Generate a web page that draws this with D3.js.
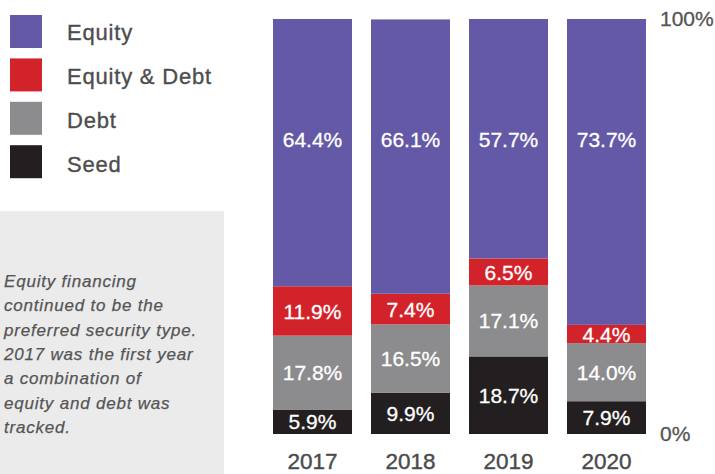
<!DOCTYPE html>
<html>
<head>
<meta charset="utf-8">
<script src="https://cdn.jsdelivr.net/npm/d3@7"></script>
<style>
  html, body { margin: 0; padding: 0; background: #fff; }
  svg { display: block; font-family: "Liberation Sans", Arial, Helvetica, sans-serif; }
</style>
</head>
<body>
<svg id="chart" width="715" height="474"></svg>
<script>
// Security type share of financings by year (percent)
const years = ["2017", "2018", "2019", "2020"];
const seriesNames = ["Seed", "Debt", "Equity & Debt", "Equity"];
const seed        = [5.9, 9.9, 18.7, 7.9];
const debt        = [17.8, 16.5, 17.1, 14.0];
const equityDebt  = [11.9, 7.4, 6.5, 4.4];
const equity      = [64.4, 66.1, 57.7, 73.7];
const axisTicks   = [0, 100];
const legendOrder = ["Equity", "Equity & Debt", "Debt", "Seed"];
const note = [
  "Equity financing",
  "continued to be the",
  "preferred security type.",
  "2017 was the first year",
  "a combination of",
  "equity and debt was",
  "tracked."
];

const colors = {
  "Equity": "#6459a6",
  "Equity & Debt": "#d2232a",
  "Debt": "#8c8c8e",
  "Seed": "#231f20"
};

const rows = years.map((y, i) => ({
  year: y,
  "Seed": seed[i],
  "Debt": debt[i],
  "Equity & Debt": equityDebt[i],
  "Equity": equity[i]
}));

const svg = d3.select("#chart");

// Note panel
svg.append("rect")
  .attr("x", 0).attr("y", 211)
  .attr("width", 224).attr("height", 263)
  .attr("fill", "#ebebec");

svg.append("g")
  .selectAll("text")
  .data(note)
  .join("text")
  .attr("x", 4)
  .attr("y", (d, i) => 287 + i * 24.3)
  .attr("font-size", 17)
  .attr("font-style", "italic")
  .attr("letter-spacing", 0.8)
  .attr("fill", "#555")
  .attr("stroke", "#555")
  .attr("stroke-width", 0.25)
  .text(d => d);

// Legend
const legend = svg.append("g").attr("transform", "translate(10,15)");

legend.selectAll("rect")
  .data(legendOrder)
  .join("rect")
  .attr("y", (d, i) => i * 43.4)
  .attr("width", 32).attr("height", 33)
  .attr("fill", d => colors[d]);

legend.selectAll("text")
  .data(legendOrder)
  .join("text")
  .attr("x", 57)
  .attr("y", (d, i) => 25 + i * 44)
  .attr("font-size", 22)
  .attr("letter-spacing", 0.8)
  .attr("fill", "#4d4d4d")
  .attr("stroke", "#4d4d4d")
  .attr("stroke-width", 0.35)
  .text(d => d);

// Scales
const x = d3.scaleBand()
  .domain(years)
  .range([273, 646])
  .paddingInner(0.194)
  .paddingOuter(0);

const y = d3.scaleLinear()
  .domain([0, 100])
  .range([434, 19]);

const stacked = d3.stack().keys(seriesNames)(rows);

// Bars
const layers = svg.append("g")
  .selectAll("g")
  .data(stacked)
  .join("g")
  .attr("fill", d => colors[d.key]);

layers.selectAll("rect")
  .data(d => d)
  .join("rect")
  .attr("x", d => x(d.data.year))
  .attr("y", d => y(d[1]))
  .attr("width", x.bandwidth())
  .attr("height", d => y(d[0]) - y(d[1]));

// Value labels: top series aligned at one level, others centred in segment
const topKey = seriesNames[seriesNames.length - 1];
layers.each(function(layer) {
  d3.select(this).selectAll("text")
    .data(layer)
    .join("text")
    .attr("x", d => x(d.data.year) + x.bandwidth() / 2)
    .attr("y", d => layer.key === topKey ? y(71) : (y(d[0]) + y(d[1])) / 2)
    .attr("dy", "0.36em")
    .attr("text-anchor", "middle")
    .attr("font-size", 21)
    .attr("fill", "#fff")
    .attr("stroke", "#fff")
    .attr("stroke-width", 0.3)
    .text(d => (d[1] - d[0]).toFixed(1) + "%");
});

// Percentage axis on the right
const yAxis = svg.append("g")
  .attr("transform", "translate(660,0)")
  .call(d3.axisRight(y).tickValues(axisTicks).tickSize(0).tickPadding(0).tickFormat(d => d + "%"));
yAxis.select(".domain").remove();
yAxis.selectAll("text")
  .attr("font-size", 21)
  .attr("fill", "#555")
  .attr("stroke", "#555")
  .attr("stroke-width", 0.3)
  .attr("font-family", null);

// Year axis
const xAxis = svg.append("g")
  .attr("transform", "translate(0,434)")
  .call(d3.axisBottom(x).tickSize(0).tickPadding(19));
xAxis.select(".domain").remove();
xAxis.selectAll("text")
  .attr("font-size", 22.5)
  .attr("fill", "#4a4a4a")
  .attr("stroke", "#4a4a4a")
  .attr("stroke-width", 0.4)
  .attr("font-family", null);
</script>
</body>
</html>
